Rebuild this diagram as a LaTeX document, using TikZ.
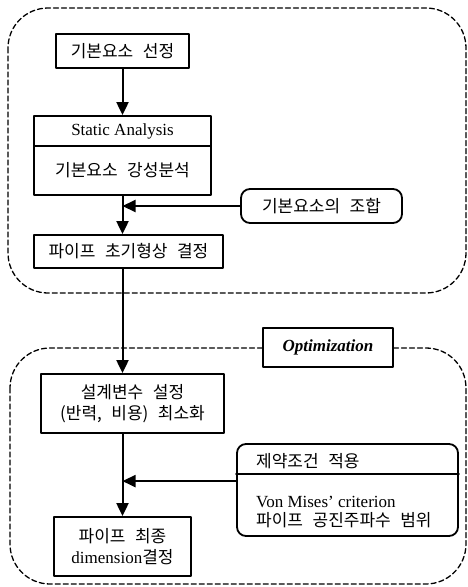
\documentclass[tikz,border=0pt]{standalone}
\usepackage{fontspec}
\setmainfont{Liberation Serif}
\newfontfamily\kr[WordSpace=2.5]{Noto Sans CJK KR}
\usepackage{tikz}
\usetikzlibrary{arrows.meta}
\tikzset{
    blk/.style={draw,line width=1.8pt,rectangle,inner sep=0pt,align=center,font=\kr\fontsize{17}{21}\selectfont},
    rblk/.style={blk,rounded corners=9pt},
    lat/.style={font=\rmfamily\fontsize{17}{19}\selectfont},
    grp/.style={line width=1.3pt,dash pattern=on 5pt off 3pt,rounded corners=40pt},
    flow/.style={->,line width=2pt}
}
\begin{document}
\begin{tikzpicture}[line cap=round,line join=round,>={Triangle[length=13pt,width=12pt]},x=1pt,y=1pt]
                \useasboundingbox (0,0) rectangle (468,-587);
                \draw [grp] (8,-8) rectangle (466,-293);
                \draw [grp] (10,-348) rectangle (466,-584);
                \node [blk,minimum width=133pt,minimum height=34pt] (sel) at (122.5,-51) {기본요소 선정};
                \node [blk,lat,minimum width=177pt,minimum height=30pt] (stat) at (122.5,-131) {Static Analysis};
                \node [blk,minimum width=177pt,minimum height=49pt] (stiff) at (122.5,-170.5) {기본요소 강성분석};
                \node [rblk,minimum width=161pt,minimum height=34pt] (comb) at (321.5,-206) {기본요소의 조합};
                \node [blk,minimum width=189pt,minimum height=33pt] (init) at (128.5,-251.5) {파이프 초기형상 결정};
                \node [blk,fill=white,font=\rmfamily\bfseries\itshape\fontsize{17}{19}\selectfont,minimum width=130pt,minimum height=39pt] (opt) at (328,-347.5) {Optimization};
                \node [blk,minimum width=183pt,minimum height=59pt] (dvar) at (132.5,-403.5) {설계변수 설정\\(반력, 비용) 최소화};
                \node [blk,minimum width=137pt,minimum height=59pt] (fin) at (122.5,-546.5) {파이프 최종\\{\rmfamily dimension}결정};
                \node [rblk,minimum width=221pt,minimum height=92pt] (con) at (347.5,-490) {};
                \draw [line width=1.8pt] ([yshift=-31pt]con.north west) -- ([yshift=-31pt]con.north east);
                \node [anchor=west,inner sep=0pt,font=\kr\fontsize{17}{21}\selectfont] (ctop) at (256,-461) {제약조건 적용};
                \node [anchor=north west,inner sep=0pt,align=left,font=\fontsize{17}{18.5}\selectfont] (cbot) at (256,-496) {Von Mises' criterion\\{\kr 파이프 공진주파수 범위}};
                \coordinate (cin) at ([yshift=-38pt]con.north west);
                \draw [flow] (sel) -- (stat);
                \draw [flow] (stiff) -- (stiff.south |- init.north);
                \draw [flow] (comb) -- (comb.west -| stiff.south);
                \draw [flow] (init.south -| stiff.south) -- (stiff.south |- dvar.north);
                \draw [flow] (dvar.south -| fin.north) -- (fin);
                \draw [flow] (cin) -- (cin -| fin.north);
\end{tikzpicture}
\end{document}
